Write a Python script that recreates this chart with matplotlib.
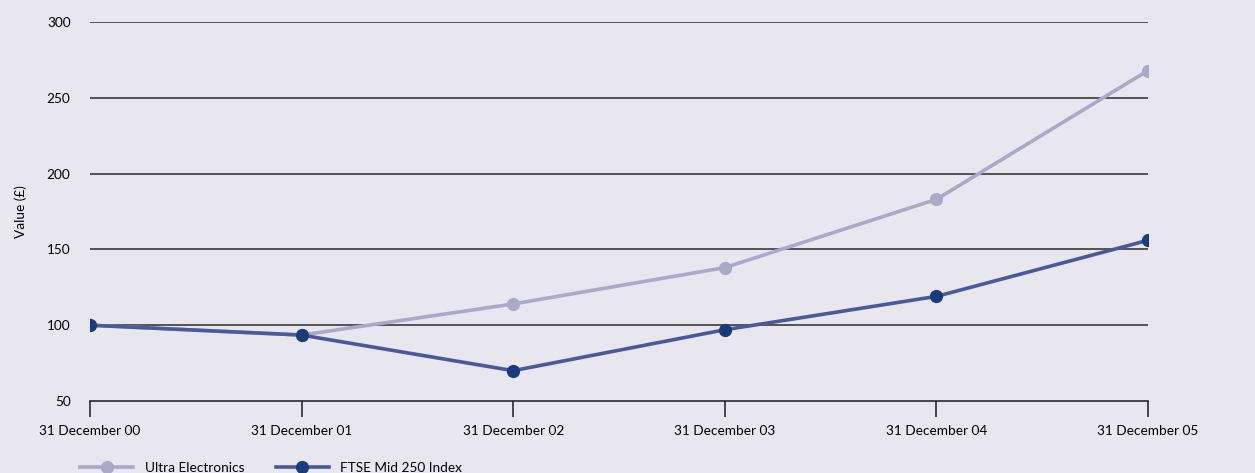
import matplotlib.pyplot as plt
from matplotlib.lines import Line2D

dates = ["31 December 00", "31 December 01", "31 December 02",
         "31 December 03", "31 December 04", "31 December 05"]
ultra = [100, 93.5, 114, 138, 183, 268]
ftse = [100, 93.5, 70, 97, 119, 156]
yticks = [50, 100, 150, 200, 250, 300]

bg = "#e8e7f0"
ultra_col = "#a9a9c8"
ftse_line = "#4b5a96"
ftse_mark = "#1b3a78"

plt.rcParams["font.family"] = ["Lato", "DejaVu Sans"]
fs = 9.8

fig = plt.figure(figsize=(12.55, 4.73), dpi=100, facecolor=bg)
ax = fig.add_axes([90 / 1255, 1 - 401 / 473, (1148 - 90) / 1255, (401 - 22) / 473])
ax.set_facecolor(bg)

x = list(range(len(dates)))
for y in yticks[1:]:
    ax.axhline(y, color="#2a2a2a", lw=1.1, zorder=1)

ax.plot(x, ultra, color=ultra_col, lw=2.6, marker="o", ms=8.5,
        mfc=ultra_col, mec=ultra_col, zorder=3, label="Ultra Electronics")
ax.plot(x, ftse, color=ftse_line, lw=2.6, marker="o", ms=8.5,
        mfc=ftse_mark, mec=ftse_mark, zorder=4, label="FTSE Mid 250 Index")

ax.set_xlim(0, len(dates) - 1)
ax.set_ylim(50, 300)
ax.set_xticks(x)
ax.set_xticklabels(dates, fontsize=fs)
ax.set_yticks(yticks)
ax.set_yticklabels([str(v) for v in yticks], fontsize=fs)

for s in ["top", "right", "left"]:
    ax.spines[s].set_visible(False)
ax.spines["bottom"].set_color("#1a1a1a")
ax.spines["bottom"].set_linewidth(1.1)
ax.spines["bottom"].set_zorder(2)

ax.tick_params(axis="x", length=11.5, width=1.1, color="#1a1a1a", direction="out", pad=6)
ax.tick_params(axis="y", length=0, pad=14)

ax.set_ylabel("Value (£)", fontsize=fs)
ax.yaxis.set_label_coords(-63 / 1058, 0.5)

handles = [
    Line2D([], [], color=ultra_col, lw=2.6, marker="o", ms=8.5, mfc=ultra_col, mec=ultra_col),
    Line2D([], [], color=ftse_line, lw=2.6, marker="o", ms=8.5, mfc=ftse_mark, mec=ftse_mark),
]
fig.legend(handles, ["Ultra Electronics", "FTSE Mid 250 Index"], loc="center left",
           bbox_to_anchor=(68 / 1255, 1 - 468 / 473), ncol=2, frameon=False,
           fontsize=fs, handlelength=3.9, handletextpad=0.85, columnspacing=2.3)

fig.savefig("out.png", dpi=100, facecolor=bg)
